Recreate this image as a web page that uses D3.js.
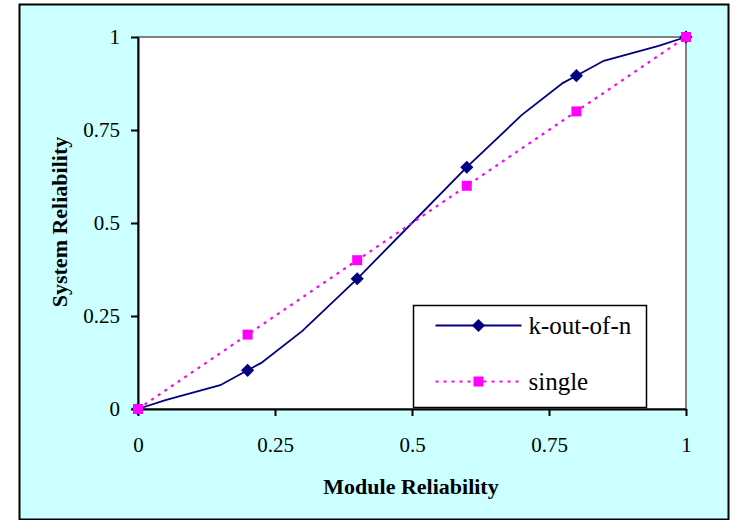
<!DOCTYPE html>
<html>
<head>
<meta charset="utf-8">
<script src="https://cdn.jsdelivr.net/npm/d3@7/dist/d3.min.js"></script>
<style>
	body { margin:0; background:#fff; }
	svg text { font-family:'Times New Roman','Liberation Serif',Tinos,'DejaVu Serif',serif; }
</style>
</head>
<body>
<svg id="chart" width="732" height="520"></svg>
<script>
// marker points (module reliability)
var moduleRel = [0, 0.2, 0.4, 0.6, 0.8, 1];
var kOutOfN = [0, 0.104, 0.35, 0.65, 0.896, 1];
var single = [0, 0.2, 0.4, 0.6, 0.8, 1];

// the k-out-of-n line itself has more vertices than markers
var curveX = [0, 0.05, 0.1, 0.15, 0.2, 0.225, 0.3, 0.4, 0.5, 0.6, 0.7, 0.775, 0.8, 0.85, 0.9, 0.95, 1];
var curveY = [0, 0.024, 0.044, 0.064, 0.104, 0.124, 0.21, 0.35, 0.5, 0.65, 0.79, 0.876, 0.896, 0.936, 0.956, 0.976, 1];

var tickVals = [0, 0.25, 0.5, 0.75, 1];
var tickLabels = ['0', '0.25', '0.5', '0.75', '1'];
var seriesNames = ['k-out-of-n', 'single'];

var plot = {left:138, top:37, right:686, bottom:409};

var svg = d3.select('#chart');

// outer frame
svg.append('rect')
	.attr('x',19.5).attr('y',4.5)
	.attr('width',709).attr('height',515)
	.attr('fill','#ccffff')
	.attr('stroke','#000')
	.attr('stroke-width',2);

var xScale = d3.scaleLinear().domain([0,1]).range([plot.left,plot.right]);
var yScale = d3.scaleLinear().domain([0,1]).range([plot.bottom,plot.top]);

// plot area
svg.append('rect')
	.attr('x',plot.left).attr('y',plot.top)
	.attr('width',plot.right-plot.left).attr('height',plot.bottom-plot.top)
	.attr('fill','#fff')
	.attr('stroke','#808080')
	.attr('stroke-width',2);

var fmt = function(d,i){ return tickLabels[i]; };

var yAxis = svg.append('g')
	.attr('transform','translate('+plot.left+',0)')
	.call(d3.axisLeft(yScale).tickValues(tickVals).tickFormat(fmt).tickSize(7).tickPadding(11).tickSizeOuter(0));

var xAxis = svg.append('g')
	.attr('transform','translate(0,'+plot.bottom+')')
	.call(d3.axisBottom(xScale).tickValues(tickVals).tickFormat(fmt).tickSize(7).tickPadding(21).tickSizeOuter(0));

[xAxis,yAxis].forEach(function(ax){
	ax.attr('font-family',null);
	ax.select('.domain').attr('stroke','#000').attr('stroke-width',2);
	ax.selectAll('.tick line').attr('stroke','#000').attr('stroke-width',2);
	ax.selectAll('.tick text').attr('fill','#000').attr('font-size',21);
});

// axis titles
svg.append('text')
	.attr('x',411).attr('y',494)
	.attr('text-anchor','middle')
	.attr('font-size',22).attr('font-weight','bold')
	.text('Module Reliability');

svg.append('text')
	.attr('transform','translate(67,222) rotate(-90)')
	.attr('text-anchor','middle')
	.attr('font-size',22).attr('font-weight','bold')
	.text('System Reliability');

var lineGen = d3.line().x(d=>xScale(d[0])).y(d=>yScale(d[1]));

var curveData = curveX.map((x,i)=>[x,curveY[i]]);
var kData = moduleRel.map((x,i)=>[x,kOutOfN[i]]);
var sData = moduleRel.map((x,i)=>[x,single[i]]);

svg.append('path')
	.datum(curveData)
	.attr('d',lineGen)
	.attr('fill','none')
	.attr('stroke','#000080')
	.attr('stroke-width',1.8);

var diamond = d3.symbol().type(d3.symbolDiamond2).size(110);
var square = d3.symbol().type(d3.symbolSquare).size(100);

svg.selectAll('.k-mark')
	.data(kData)
	.enter()
	.append('path')
	.attr('class','k-mark')
	.attr('d',diamond)
	.attr('transform',d=>'translate('+xScale(d[0])+','+yScale(d[1])+')')
	.attr('fill','#000080');

svg.append('path')
	.datum(sData)
	.attr('d',lineGen)
	.attr('fill','none')
	.attr('stroke','#ff00ff')
	.attr('stroke-width',2.2)
	.attr('stroke-dasharray','3,5');

svg.selectAll('.s-mark')
	.data(sData)
	.enter()
	.append('path')
	.attr('class','s-mark')
	.attr('d',square)
	.attr('transform',d=>'translate('+xScale(d[0])+','+yScale(d[1])+')')
	.attr('fill','#ff00ff');

// legend box
var legend = svg.append('g').attr('transform','translate(413.5,305.5)');
legend.append('rect')
	.attr('width',233).attr('height',102)
	.attr('fill','#fff')
	.attr('stroke','#000')
	.attr('stroke-width',1.5);

var legRows = legend.selectAll('.row')
	.data(seriesNames)
	.enter()
	.append('g')
	.attr('transform',(d,i)=>'translate(0,'+(20+i*56)+')');

legRows.append('line')
	.attr('x1',22).attr('x2',108)
	.attr('stroke',(d,i)=>i==0?'#000080':'#ff00ff')
	.attr('stroke-width',(d,i)=>i==0?1.8:2.2)
	.attr('stroke-dasharray',(d,i)=>i==0?null:'3,5');

legRows.append('path')
	.attr('d',(d,i)=>i==0?diamond():square())
	.attr('transform','translate(65,0)')
	.attr('fill',(d,i)=>i==0?'#000080':'#ff00ff');

legRows.append('text')
	.attr('x',115).attr('y',8)
	.attr('font-size',25)
	.text(d=>d);
</script>
</body>
</html>
